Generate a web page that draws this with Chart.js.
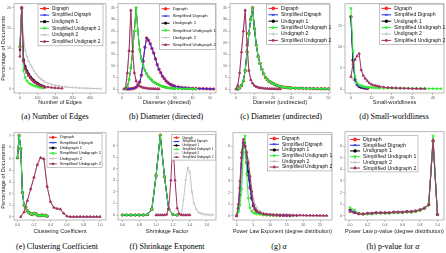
<!DOCTYPE html>
<html>
<head>
<meta charset="utf-8">
<script src="https://cdn.jsdelivr.net/npm/chart.js@4.4.0/dist/chart.umd.min.js"></script>
<style>
body { margin: 0; background: #fff; width: 446px; height: 253px; position: relative; overflow: hidden; }
.cap { position: absolute; width: 140px; text-align: center; white-space: nowrap; color: #000;
       font-family: "Liberation Serif", "DejaVu Serif", serif; font-size: 8px; line-height: 10px; }
</style>
</head>
<body>
<script>
// series names, same six in every panel
const seriesNames = ['Digraph', 'Simplified Digraph', 'Undigraph 1', 'Simplified Undigraph 1', 'Undigraph 2', 'Simplified Undigraph 2'];

// (a) Number of Edges
const edgesX = [0,10,20,30,40,50,60,70,80,90,100,110,120,130,140,160,180,200,220,240,260,280,300,320,340,360,380,400,420,440,460];
const edgesDigraph = [10.4,20,7.0,5.2,4.2,3.4,2.8,2.3,1.9,1.6,1.3,1.0,0.8,0.6,0.4];
const edgesUndigraph1 = [9.6,20,7.4,5.6,4.5,3.7,3.0,2.5,2.1,1.7,1.4,1.1,0.9,0.7,0.5];
const edgesSimpUndigraph1 = [10.4,19.5,4.5,2.8,2.0,1.5,1.2,1.0,0.8,0.65,0.5,0.4,0.3,0.2];
const edgesUndigraph2 = [12,20,13,9.5,8.0,6.8,6.0,5.2,4.5,3.8,3.2,2.8,2.4,2.1,1.8,1.4,1.1,0.9,0.75,0.6,0.5,0.42,0.35,0.3,0.25,0.2,0.17,0.14,0.11,0.09,0.07];
const edgesSimpUndigraph2 = [8.0,20,6.8,5.0,4.0,3.3,2.7,2.2,1.8,1.5,1.2,1.0,0.8,0.7,0.6,0.45,0.35,0.25,0.2,0.15];

// (b) Diameter (directed)
const diamDirX = [0,1,2,3,4,5,6,7,8,9,10,11,12,13,14,15,16,17,18,19,20,21,22,23,24,25,26,27,28,29,30,32,34,36,38,40,42,44,46,48,50,52];
const diamDirSimpDigraph = [null,null,null,0,0,0.1,0.2,0.4,0.8,1.5,3,6,12,18,22,21,19.5,17.5,15.5,13,10.5,8.5,7,5.5,4.5,3.5,2.8,2.2,1.8,1.5,1.2,0.9,0.7,0.5,0.4,0.3,0.25,0.2,0.15,0.1,0.05,0.03];
const diamDirSimpUndigraph1 = [null,null,0,1,4,9,16,25,35,25,17,13,10,8,6.5,5.3,4.5,3.7,3.0,2.6,2.2,1.8,1.4,1.1,0.9,0.7,0.55,0.45,0.35,0.3,0.25,0.2,0.15,0.1,0.08,0.05,0.03];
const diamDirSimpUndigraph2 = [null,0,0.5,7,16.5,34,16.5,7,3.5,2,1.3,0.9,0.6,0.45,0.35,0.25,0.2,0.15,0.1,0.08,0.05,0.03];

// (c) Diameter (undirected)
const diamUndX = [0,1,2,3,4,5,6,7,8,9,10,11,12,13,14,15,16,17,18,19,20,21,22,23,24,25,26,27,28,29,30,32,34,36,38,40,42,44,46,48,50];
const diamUndSimpUndigraph1 = [null,0,0.5,1.5,3.5,8,16,24,30,35,26,19,14,11,8.5,6.5,5,4,3.3,2.8,2.4,2,1.6,1.3,1.1,0.9,0.8,0.7,0.6,0.5,0.45,0.4,0.35,0.3,0.25,0.2,0.18,0.15,0.12,0.1,0.08];
const diamUndSimpUndigraph2 = [0,1.5,7,16,25,34,19,8,4,2.5,1.5,1.0,0.7,0.5,0.4,0.3,0.25,0.2,0.15,0.12,0.1,0.08,0.05,0.03,0.02];

// (d) Small-worldliness
const swX = [0,1,2,3,4,5,6,7,8,9,10,11,12,13,14,16,18,20,22,24,26,28,30,32,34,36,38,40,42,44];
const swSimpDigraph = [17.1,6.8,2.2,1.0,0.6,0.4,0.3,0.2,0.15];
const swSimpUndigraph1 = [19.1,9.0,3.0,1.5,1.0,0.8,0.6,0.5,0.45,0.4,0.35,0.3,0.3,0.25,0.25,0.2,0.2,0.18,0.17,0.16,0.15,0.14,0.13,0.12,0.12,0.11,0.1,0.1,0.09,0.08];
const swUndigraph2 = [3.0,2.2,1.5,1.1,0.9,0.7,0.6,0.5,0.45,0.4,0.35,0.3,0.3,0.25,0.2];
const swSimpUndigraph2 = [2.9,6.0,7.0,7.8,8.4,4.5,3.2,2.5,1.9,1.4,1.1,0.9,0.8,0.7,0.6,0.45,0.35,0.3,0.25,0.2,0.18,0.15,0.12,0.1,0.08,0.06];

// (e) Clustering Coefficient
const ccX1 = [0,0.02,0.04,0.06,0.08,0.10,0.12,0.14,0.16,0.18,0.20,0.22,0.24,0.26,0.28,0.30,0.32,0.34,0.36];
const ccSimpUndigraph1 = [5.1,7.0,5.9,2.1,1.0,0.8,0.5,0.35,0.25,0.2,0.3,0.25,0.15,0.1,0.1,0.15,0.1,0.12,0.05];
const ccX2 = [0.04,0.08,0.12,0.16,0.20,0.24,0.28,0.32,0.36,0.40,0.44,0.48,0.52,0.56,0.60,0.64,0.68,0.72,0.76,0.80,0.84,0.88,0.92,0.96,1.00];
const ccSimpUndigraph2 = [0,0.4,1.4,2.4,3.4,4.5,5.1,5.0,2.6,1.3,0.8,0.7,0.65,0.3,0.05,0,0,0,0,0,0,0,0,0,0];

// (f) Shrinkage Exponent
const shrinkX1 = [0.6,0.65,0.7,0.75,0.8,0.85,0.9,0.95,1.0,1.05,1.1,1.15,1.2,1.25];
const shrinkSimpUndigraph1 = [0,0,0,0,0,0,0.05,0.5,3.4,6.9,3.3,0.5,0.05,0];
const shrinkX2 = [1.0,1.025,1.05,1.075,1.1,1.125,1.15,1.175,1.2,1.225,1.25,1.275,1.3,1.325,1.35,1.375,1.4];
const shrinkSimpUndigraph2 = [0,0,0,0,0,0.05,0.6,3.0,6.4,3.0,0.6,0.1,0,0,0,0,0];
const shrinkX3 = [1.275,1.3,1.325,1.35,1.375,1.4,1.425,1.45,1.475,1.5,1.525,1.55,1.575,1.6,1.625,1.65,1.675];
const shrinkUndigraph2 = [0,0.1,1.3,3.0,4.1,3.7,2.0,1.0,0.5,0.25,0.15,0.1,0.05,0.03,0.02,0.01,0];

// (g) Power law exponent
const plX = [0,0.5,1,1.5,2,2.5,3,3.5,4,4.5,5,5.5,6,7,8,9,10,11,12,13,14,15,16,17,18,19,20,21,22,23,24,25,26,27];
const plDigraph = [0,0.6,2.4,5.0,6.3,6.0,4.6,3.5,2.4,1.5,0.85,0.55,0.35,0.2,0.12,0.09,0.07,0.05,0.04,0.03,0.03,0.02,0.02];
const plUndigraph1 = [0,0.4,1.8,4.5,6.0,6.3,5.0,3.8,2.6,1.6,0.9,0.6,0.4,0.25,0.15,0.1,0.08,0.06,0.05,0.04,0.03,0.03,0.02,0.02,0.02];
const plSimpUndigraph1 = [0,0.3,0.9,2.3,5.5,6.9,3.6,1.5,0.7,0.4,0.25,0.2,0.15,0.1,0.07,0.05,0.04,0.03,0.02];
const plUndigraph2 = [0,0.5,2.0,4.0,5.2,5.4,5.5,4.8,3.5,2.4,1.5,1.0,0.7,0.4,0.25,0.18,0.14,0.11,0.09,0.08,0.07,0.06,0.05,0.05,0.04,0.04,0.03,0.03,0.03,0.02,0.02,0.02,0.01,0.01];
const plSimpUndigraph2 = [0,1.0,3.0,5.5,6.6,6.0,5.5,4.6,3.4,2.1,1.0,0.6,0.4,0.25,0.15,0.12,0.1,0.08,0.07,0.06,0.05,0.05,0.04,0.04,0.03,0.03,0.03,0.02,0.02,0.02,0.02,0.01,0.01,0.01];

// (h) p-value for alpha
const pvX = [0,0.05,0.1,0.15,0.2,0.25,0.3,0.35,0.4,0.45,0.5,0.55,0.6,0.65,0.7,0.75,0.8,0.85,0.9,0.95,1.0];
const pvDigraph = [0.5,0.3,0.2,0.15,0.2,0.2,0.25,0.25,0.25,0.25,0.3,0.3,0.3,0.35,0.35,0.4,0.5,0.65,0.95,6.45,0.1];
const pvSimpUndigraph1 = [0.7,0.5,0.2,0.15,0.15,0.15,0.2,0.2,0.2,0.2,0.25,0.25,0.25,0.3,0.3,0.35,0.45,0.6,0.9,6.9,0.1];
const pvUndigraph2 = [0.4,0.3,0.2,0.2,0.2,0.2,0.25,0.25,0.3,0.3,0.3,0.35,0.35,0.35,0.4,0.45,0.55,0.7,1.0,6.3,0.1];
const pvSimpUndigraph2 = [0.35,0.25,0.15,0.15,0.2,0.2,0.25,0.25,0.25,0.25,0.3,0.3,0.3,0.35,0.35,0.4,0.5,0.65,0.95,6.55,0.1];

// line styles, in the order of seriesNames
const styles = [
  { color: '#ff2020', point: 'circle', rot: 0, order: 6, r: 1.3 },
  { color: '#2232e0', point: 'crossRot', rot: 0, order: 3, r: 1.4 },
  { color: '#000000', point: 'rect', rot: 0, order: 5, r: 1.0 },
  { color: '#33ee33', point: 'triangle', rot: 180, order: 2, r: 1.4 },
  { color: '#c4c4c4', point: 'cross', rot: 0, order: 4, r: 1.4 },
  { color: '#a03262', point: 'triangle', rot: 0, order: 1, r: 1.4 }
];

const PAD_T = 4, PAD_R = 5;
const sans = '"Liberation Sans", Arial, sans-serif';

const framePlugin = {
  id: 'frame',
  afterDatasetsDraw(chart) {
    const a = chart.chartArea, ctx = chart.ctx;
    ctx.save();
    ctx.strokeStyle = '#a8a8a8';
    ctx.lineWidth = 0.8;
    ctx.strokeRect(a.left, a.top, a.right - a.left, a.bottom - a.top);
    ctx.restore();
  },
  afterDraw(chart, args, opts) {
    const lg = opts.legend;
    if (!lg) return;
    const a = chart.chartArea, ctx = chart.ctx;
    const h = lg.row * 6 + 2;
    const x = lg.left ? a.left + lg.dx : a.right - lg.dx - lg.w;
    const y = a.top + lg.dy;
    const lineLen = lg.fs * 1.9;
    ctx.save();
    ctx.fillStyle = '#fff';
    ctx.fillRect(x, y, lg.w, h);
    ctx.strokeStyle = '#9a9a9a';
    ctx.lineWidth = 0.6;
    ctx.strokeRect(x, y, lg.w, h);
    chart.data.datasets.forEach((ds, i) => {
      const cy = y + 1 + lg.row * (i + 0.5);
      ctx.strokeStyle = ds.borderColor;
      ctx.fillStyle = ds.borderColor;
      ctx.lineWidth = 1;
      ctx.beginPath();
      ctx.moveTo(x + 2, cy);
      ctx.lineTo(x + 2 + lineLen, cy);
      ctx.stroke();
      Chart.helpers.drawPoint(ctx, { pointStyle: ds.pointStyle, rotation: ds.pointRotation, radius: lg.fs * 0.28, borderWidth: 0.8 }, x + 2 + lineLen / 2, cy);
      ctx.fillStyle = '#111';
      ctx.font = lg.fs + 'px ' + sans;
      ctx.textBaseline = 'middle';
      ctx.fillText(ds.label, x + lineLen + 5, cy);
    });
    ctx.restore();
  }
};

function addPanel(p) {
  const f = p.frame;
  const w = p.yw + (f.r - f.l) + PAD_R;
  const h = PAD_T + (f.b - f.t) + p.xh;
  const canvas = document.createElement('canvas');
  canvas.width = w;
  canvas.height = h;
  canvas.style.cssText = `position:absolute;left:${f.l - p.yw}px;top:${f.t - PAD_T}px;width:${w}px;height:${h}px`;
  document.body.appendChild(canvas);

  const datasets = p.series.map(([xs, ys], i) => ({
    label: seriesNames[i],
    data: ys.map((y, j) => ({ x: xs[j], y: y })),
    borderColor: styles[i].color,
    backgroundColor: styles[i].color,
    pointBackgroundColor: styles[i].color,
    pointStyle: styles[i].point,
    pointRotation: styles[i].rot,
    pointRadius: styles[i].r,
    pointBorderWidth: 0.7,
    borderWidth: 1,
    order: styles[i].order,
    spanGaps: true
  }));

  const tickFont = { family: sans, size: 3.6 };
  const grid = { display: true, drawOnChartArea: false, drawTicks: true, tickLength: 2, color: '#999', lineWidth: 0.6 };

  new Chart(canvas, {
    type: 'line',
    data: { datasets: datasets },
    options: {
      responsive: false,
      animation: false,
      layout: { padding: { top: PAD_T, right: PAD_R, left: 0, bottom: 0 } },
      plugins: { legend: { display: false }, tooltip: { enabled: false }, frame: { legend: p.legend } },
      scales: {
        x: {
          type: 'linear', min: p.xMin, max: p.xMax,
          afterBuildTicks: s => { s.ticks = p.xTicks.map(v => ({ value: v })); },
          afterFit: s => { s.height = p.xh; },
          ticks: { autoSkip: false, maxRotation: 0, minRotation: 0, padding: 1, color: '#555', font: tickFont,
                   callback: (v, i) => p.xLabels[i] },
          grid: grid, border: { display: false },
          title: { display: true, text: p.xTitle, color: '#222', padding: 0, font: { family: sans, size: 5.6 } }
        },
        y: {
          type: 'linear', min: p.yMin, max: p.yMax,
          afterBuildTicks: s => { s.ticks = p.yTicks.map(v => ({ value: v })); },
          afterFit: s => { s.width = p.yw; },
          ticks: { autoSkip: false, padding: 1, color: '#555', font: tickFont,
                   callback: (v, i) => p.yLabels[i] },
          grid: grid, border: { display: false },
          title: { display: !!p.yTitle, text: p.yTitle || '', color: '#222', padding: 0, font: { family: sans, size: 5.6 } }
        }
      }
    },
    plugins: [framePlugin]
  });
}

function addCaption(html, cx, cy) {
  const d = document.createElement('div');
  d.className = 'cap';
  d.innerHTML = html;
  d.style.left = (cx - 70) + 'px';
  d.style.top = (cy - 5) + 'px';
  document.body.appendChild(d);
}

const yLab5 = [0, 5, 10, 15, 20, 25, 30, 35];
const yLab1 = [0, 1, 2, 3, 4, 5, 6, 7];

addPanel({
  frame: { l: 14, t: 3, r: 106, b: 93 }, yw: 14, xh: 13,
  xMin: -34, xMax: 491, xTicks: [0, 100, 200, 300, 400], xLabels: ['0', '100', '200', '300', '400'],
  yMin: -1, yMax: 21, yTicks: yLab5.slice(0, 5), yLabels: ['0', '5', '10', '15', '20'],
  xTitle: 'Number of Edges', yTitle: 'Percentage of Documents',
  series: [[edgesX, edgesDigraph], [edgesX, edgesDigraph], [edgesX, edgesUndigraph1],
           [edgesX, edgesSimpUndigraph1], [edgesX, edgesUndigraph2], [edgesX, edgesSimpUndigraph2]],
  legend: { w: 65, row: 6.6, fs: 4.8, dx: 3, dy: 0.5 }
});

addPanel({
  frame: { l: 118, t: 3, r: 216, b: 93 }, yw: 10, xh: 13,
  xMin: -2.3, xMax: 53.4, xTicks: [0, 10, 20, 30, 40, 50], xLabels: ['0', '10', '20', '30', '40', '50'],
  yMin: -1.7, yMax: 36.8, yTicks: yLab5, yLabels: yLab5.map(String),
  xTitle: 'Diameter (directed)',
  series: [[diamDirX, diamDirSimpDigraph], [diamDirX, diamDirSimpDigraph], [diamDirX, diamDirSimpUndigraph1],
           [diamDirX, diamDirSimpUndigraph1], [diamDirX, diamDirSimpUndigraph2], [diamDirX, diamDirSimpUndigraph2]],
  legend: { w: 56, row: 7.2, fs: 4.3, dx: 0.5, dy: 0.5 }
});

addPanel({
  frame: { l: 230, t: 3, r: 330, b: 93 }, yw: 10, xh: 13,
  xMin: -3.2, xMax: 50.8, xTicks: [0, 10, 20, 30, 40, 50], xLabels: ['0', '10', '20', '30', '40', '50'],
  yMin: -1.7, yMax: 36.8, yTicks: yLab5, yLabels: yLab5.map(String),
  xTitle: 'Diameter (undirected)',
  series: [[diamUndX, diamUndSimpUndigraph1], [diamUndX, diamUndSimpUndigraph1], [diamUndX, diamUndSimpUndigraph1],
           [diamUndX, diamUndSimpUndigraph1], [diamUndX, diamUndSimpUndigraph2], [diamUndX, diamUndSimpUndigraph2]],
  legend: { w: 63, row: 6.4, fs: 5, dx: 0.5, dy: 0.5 }
});

addPanel({
  frame: { l: 345, t: 3, r: 444, b: 93 }, yw: 10, xh: 13,
  xMin: -2.9, xMax: 45.4, xTicks: [0, 10, 20, 30, 40], xLabels: ['0', '10', '20', '30', '40'],
  yMin: -0.94, yMax: 20.2, yTicks: yLab5.slice(0, 4), yLabels: ['0', '5', '10', '15'],
  xTitle: 'Small-worldliness',
  series: [[swX, swSimpDigraph], [swX, swSimpDigraph], [swX, swSimpDigraph],
           [swX, swSimpUndigraph1], [swX, swUndigraph2], [swX, swSimpUndigraph2]],
  legend: { w: 64, row: 6.4, fs: 5.1, dx: 0.5, dy: 0.5 }
});

addPanel({
  frame: { l: 14, t: 132, r: 106, b: 220 }, yw: 14, xh: 15,
  xMin: -0.042, xMax: 1.073, xTicks: [0, 0.2, 0.4, 0.6, 0.8, 1.0], xLabels: ['0.0', '0.2', '0.4', '0.6', '0.8', '1.0'],
  yMin: -0.28, yMax: 7.26, yTicks: yLab1, yLabels: yLab1.map(String),
  xTitle: 'Clustering Coefficient', yTitle: 'Percentage of Documents',
  series: [[ccX1, ccSimpUndigraph1], [ccX1, ccSimpUndigraph1], [ccX1, ccSimpUndigraph1],
           [ccX1, ccSimpUndigraph1], [ccX2, ccSimpUndigraph2], [ccX2, ccSimpUndigraph2]],
  legend: { w: 55, row: 5.3, fs: 4.1, dx: 4, dy: 1 }
});

addPanel({
  frame: { l: 118, t: 131, r: 216, b: 220 }, yw: 10, xh: 15,
  xMin: 0.549, xMax: 1.71, xTicks: [0.6, 0.8, 1.0, 1.2, 1.4, 1.6], xLabels: ['0.6', '0.8', '1.0', '1.2', '1.4', '1.6'],
  yMin: -0.43, yMax: 7.2, yTicks: yLab1.slice(0, 7), yLabels: yLab1.slice(0, 7).map(String),
  xTitle: 'Shrinkage Factor',
  series: [[shrinkX1, shrinkSimpUndigraph1], [shrinkX1, shrinkSimpUndigraph1], [shrinkX1, shrinkSimpUndigraph1],
           [shrinkX1, shrinkSimpUndigraph1], [shrinkX3, shrinkUndigraph2], [shrinkX2, shrinkSimpUndigraph2]],
  legend: { w: 44, row: 3.9, fs: 3.1, dx: 0.5, dy: 3 }
});

addPanel({
  frame: { l: 233, t: 132, r: 332, b: 220 }, yw: 10, xh: 15,
  xMin: -1.1, xMax: 28.6, xTicks: [0, 5, 10, 15, 20, 25], xLabels: ['0', '5', '10', '15', '20', '25'],
  yMin: -0.37, yMax: 7.17, yTicks: yLab1.slice(0, 7), yLabels: yLab1.slice(0, 7).map(String),
  xTitle: 'Power Law Exponent (degree distribution)',
  series: [[plX, plDigraph], [plX, plDigraph], [plX, plUndigraph1],
           [plX, plSimpUndigraph1], [plX, plUndigraph2], [plX, plSimpUndigraph2]],
  legend: { w: 64, row: 5.7, fs: 5, dx: 0.5, dy: 2 }
});

addPanel({
  frame: { l: 345, t: 131, r: 444, b: 220 }, yw: 10, xh: 15,
  xMin: -0.057, xMax: 1.075, xTicks: [0, 0.2, 0.4, 0.6, 0.8, 1.0], xLabels: ['0.0', '0.2', '0.4', '0.6', '0.8', '1.0'],
  yMin: -0.37, yMax: 7.26, yTicks: yLab1.slice(0, 7), yLabels: yLab1.slice(0, 7).map(String),
  xTitle: 'Power Law p-value (degree distribution)',
  series: [[pvX, pvDigraph], [pvX, pvDigraph], [pvX, pvDigraph],
           [pvX, pvSimpUndigraph1], [pvX, pvUndigraph2], [pvX, pvSimpUndigraph2]],
  legend: { w: 70, row: 5.7, fs: 5.3, dx: 3, dy: 4, left: true }
});

addCaption('(a) Number of Edges', 55, 117);
addCaption('(b) Diameter (directed)', 166, 117);
addCaption('(c) Diameter (undirected)', 281, 117);
addCaption('(d) Small-worldliness', 394, 117);
addCaption('(e) Clustering Coefficient', 57, 247);
addCaption('(f) Shrinkage Exponent', 167, 247);
addCaption('(g) <i>&alpha;</i>', 279, 247);
addCaption('(h) p-value for <i>&alpha;</i>', 393, 247);
</script>
</body>
</html>
